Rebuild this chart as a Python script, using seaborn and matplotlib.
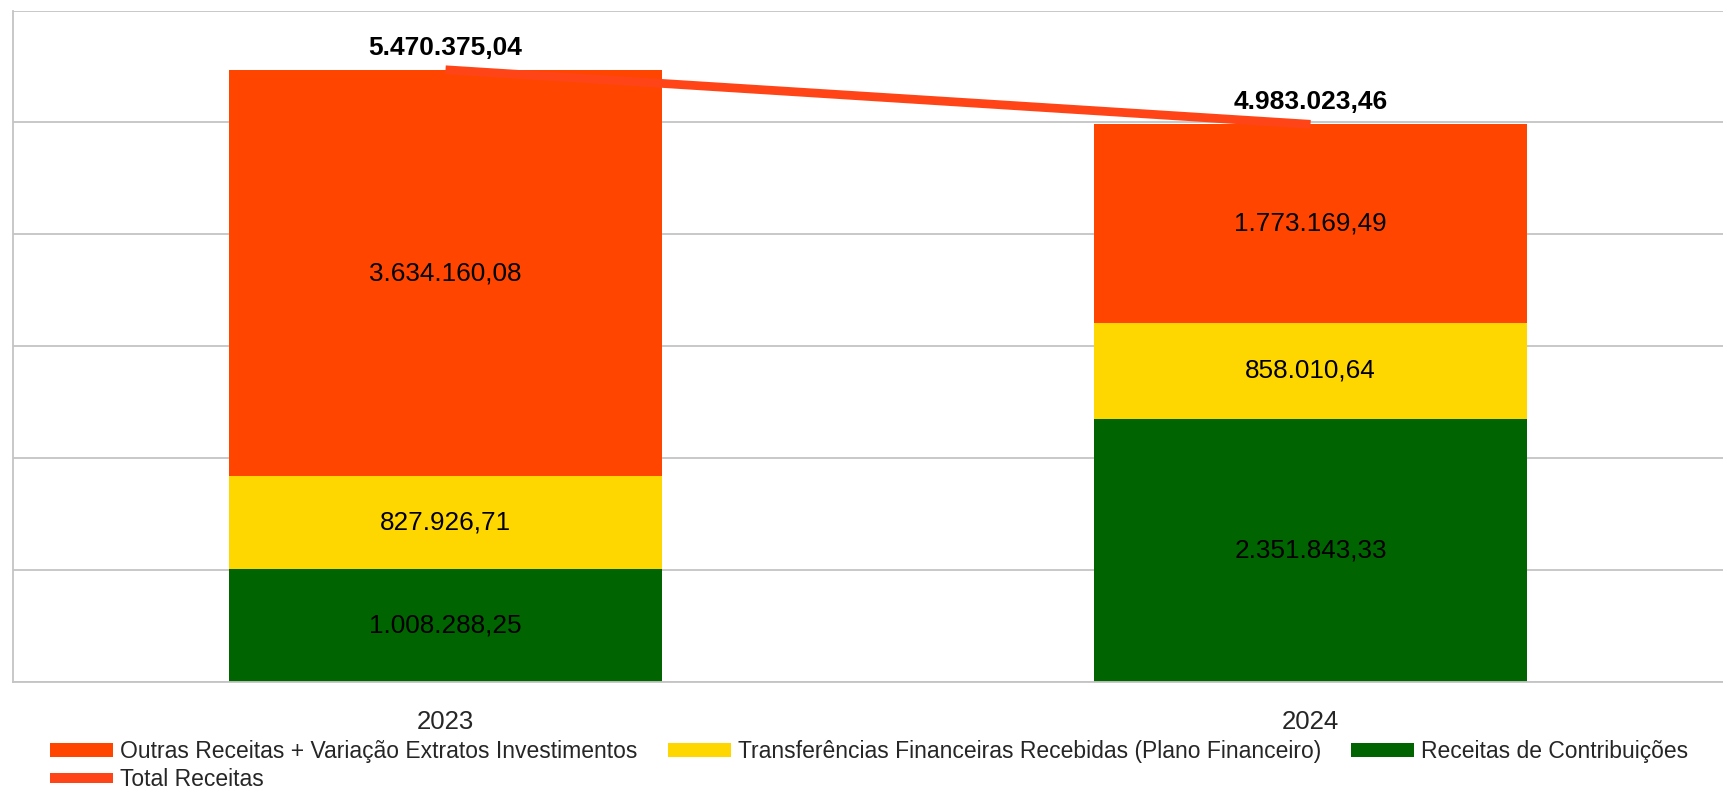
import numpy as np
import pandas as pd
import seaborn as sns
from matplotlib import pyplot as plt
from matplotlib.patches import Patch
from matplotlib.lines import Line2D

# data
years = ["2023", "2024"]
contribuicoes = [1008288.25, 2351843.33]
transferencias = [827926.71, 858010.64]
outras = [3634160.08, 1773169.49]
totais = [5470375.04, 4983023.46]

nomes = ["Outras Receitas + Variação Extratos Investimentos",
         "Transferências Financeiras Recebidas (Plano Financeiro)",
         "Receitas de Contribuições",
         "Total Receitas"]

COR_OUTRAS = "#FF4500"
COR_TRANSF = "#FFD700"
COR_CONTRIB = "#006400"
COR_TOTAL = "#FF4517"
GRID = "#C4C4C4"

def fmt(v):
    s = f"{v:,.2f}"
    return s.replace(",", "X").replace(".", ",").replace("X", ".")

sns.set_style("white")
plt.rcParams["font.family"] = ["Liberation Sans", "DejaVu Sans"]

df = pd.DataFrame({"ano": years,
                   "contrib": contribuicoes,
                   "transf": transferencias,
                   "outras": outras})
df["c1"] = df["contrib"]
df["c2"] = df["contrib"] + df["transf"]
df["c3"] = df["c2"] + df["outras"]

fig = plt.figure(figsize=(17.24, 7.88), dpi=100)
ax = fig.add_axes([13 / 1724, 106 / 788, 1730 / 1724, 671.5 / 788])

# stacked look: draw cumulative bars from tallest to shortest
for col, cor in [("c3", COR_OUTRAS), ("c2", COR_TRANSF), ("c1", COR_CONTRIB)]:
    sns.barplot(data=df, x="ano", y=col, color=cor, saturation=1, width=0.5,
                linewidth=0, edgecolor="none", ax=ax, zorder=2)

sns.lineplot(x=np.arange(len(years)), y=totais, color=COR_TOTAL, lw=6.3,
             ax=ax, zorder=3, solid_capstyle="butt")

# segment labels
for i in range(len(years)):
    base = 0
    for v in [contribuicoes[i], transferencias[i], outras[i]]:
        ax.text(i, base + v / 2, fmt(v), ha="center", va="center",
                fontsize=18.8, color="black", zorder=4)
        base += v
    ax.annotate(fmt(totais[i]), (i, totais[i]), xytext=(0, 15.8),
                textcoords="offset points", ha="center", va="center",
                fontsize=19, fontweight="bold", color="black", zorder=4)

ax.set_xlim(-0.5, 1.5)
ax.set_ylim(0, 6e6)
ax.set_yticks(np.arange(0, 6e6 + 1, 1e6))
ax.set_yticklabels([])
ax.tick_params(axis="y", length=0)
ax.yaxis.grid(True, color=GRID, lw=1.3, zorder=0)
ax.set_axisbelow(True)

ax.set_xticks([0, 1])
ax.set_xticklabels(years, fontsize=18.5)
ax.tick_params(axis="x", which="major", length=0, pad=20)
ax.set_xticks([-0.5, 0.5, 1.5], minor=True)
ax.tick_params(axis="x", which="minor", length=8, width=1.3, color=GRID)
ax.set_xlabel("")
ax.set_ylabel("")

for s in ["top", "right"]:
    ax.spines[s].set_visible(False)
for s in ["left", "bottom"]:
    ax.spines[s].set_color(GRID)
    ax.spines[s].set_linewidth(1.3)

handles = [Patch(facecolor=COR_OUTRAS, edgecolor="none"),
           Line2D([0], [0], color=COR_TOTAL, lw=7.2, solid_capstyle="butt"),
           Patch(facecolor=COR_TRANSF, edgecolor="none"),
           Patch(facecolor=COR_CONTRIB, edgecolor="none")]
labels = [nomes[0], nomes[3], nomes[1], nomes[2]]
fig.legend(handles, labels, ncol=3, loc="upper left",
           bbox_to_anchor=(50 / 1724, 1 - 740 / 788), frameon=False,
           fontsize=16.5, handlelength=2.77, handleheight=0.56,
           handletextpad=0.3, columnspacing=1.3, labelspacing=0.2,
           borderpad=0, borderaxespad=0)

fig.savefig("out.png", dpi=100)
